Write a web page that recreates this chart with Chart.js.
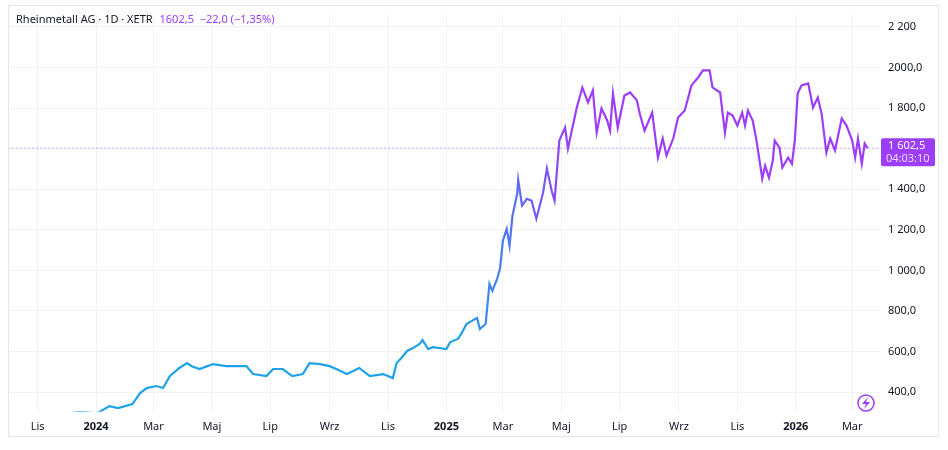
<!DOCTYPE html>
<html>
<head>
<meta charset="utf-8">
<script src="https://cdn.jsdelivr.net/npm/chart.js@4"></script>
<style>
  body { margin: 0; background: #fff; font-family: "Noto Sans", sans-serif; }
  #wrap { position: relative; width: 948px; height: 450px; }
  #frame { position: absolute; left: 8px; top: 5px; width: 931px; height: 432px; border: 1px solid #e6e6e6; box-sizing: border-box; }
  #title { position: absolute; left: 16px; top: 11px; font-size: 11px; color: #131722; }
  #title span { color: #9b3ef5; margin-left: 4px; }
</style>
</head>
<body>
<div id="wrap">
  <div id="frame"></div>
  <canvas id="chart" width="948" height="450"></canvas>
  <div id="title">Rheinmetall AG · 1D · XETR <span>1602,5&nbsp; −22,0 (−1,35%)</span></div>
</div>
<script>
// days since 2023-11-01
const days = [19, 33, 44, 62, 75, 84, 99, 107, 114, 124, 131, 138, 148, 156, 161, 169, 183, 197, 211, 218,
  225, 239, 246, 256, 266, 277, 284, 295, 305, 312, 323, 336, 347, 361, 371, 375, 380, 386, 392, 399,
  402, 408, 413, 427, 431, 439, 443, 448, 459, 462, 468, 472, 475, 480, 483, 486, 490, 493, 496, 501,
  502, 506, 511, 516, 521, 525, 528, 532, 537, 540, 545, 551, 554, 558, 563, 569, 575, 580, 584, 589,
  595, 598, 601, 606, 613, 619, 626, 629, 634, 642, 648, 653, 657, 664, 669, 676, 683, 690, 695, 702,
  705, 713, 718, 721, 726, 731, 736, 739, 742, 747, 751, 757, 760, 764, 768, 770, 775, 778, 784, 788,
  791, 794, 798, 805, 810, 815, 819, 824, 828, 833, 840, 845, 851, 854, 857, 861, 864, 867];
const prices = [291, 296, 301, 296, 331, 321, 341, 395, 420, 430, 420, 479, 519, 543, 528, 514, 538, 528, 528, 528,
  489, 479, 514, 514, 479, 489, 543, 538, 528, 514, 489, 519, 479, 489, 469, 543, 568, 603, 617, 637,
  657, 612, 622, 612, 647, 662, 691, 736, 766, 711, 736, 934, 899, 958, 1008, 1146, 1205, 1121, 1269, 1378,
  1447, 1319, 1353, 1344, 1255, 1329, 1383, 1502, 1393, 1344, 1640, 1704, 1600, 1689, 1798, 1902, 1828, 1887, 1679, 1798,
  1739, 1689, 1872, 1704, 1862, 1877, 1838, 1773, 1689, 1778, 1556, 1650, 1566, 1650, 1754, 1788, 1912, 1951, 1986, 1986,
  1902, 1877, 1679, 1778, 1763, 1714, 1778, 1714, 1788, 1739, 1640, 1452, 1516, 1457, 1541, 1640, 1605, 1507, 1556, 1526,
  1640, 1872, 1912, 1922, 1803, 1852, 1773, 1581, 1650, 1591, 1749, 1714, 1640, 1556, 1650, 1526, 1625, 1602.5];

const tickDays = [0, 61, 121, 182, 243, 305, 366, 427, 486, 547, 608, 670, 731, 792, 851];
const tickLabels = ['Lis', '2024', 'Mar', 'Maj', 'Lip', 'Wrz', 'Lis', '2025', 'Mar', 'Maj', 'Lip', 'Wrz', 'Lis', '2026', 'Mar'];
const yTicks = [400, 600, 800, 1000, 1200, 1400, 1600, 1800, 2000, 2200];
const yLabels = ['400,0', '600,0', '800,0', '1 000,0', '1 200,0', '1 400,0', '', '1 800,0', '2000,0', '2 200'];
const lastPrice = 1602.5;

const points = days.map((d, i) => ({ x: d, y: prices[i] }));

const overlay = {
    id: 'overlay',
    afterDatasetsDraw(chart) {
        const ctx = chart.ctx;
        const area = chart.chartArea;
        const yPix = chart.scales.y.getPixelForValue(lastPrice);
        ctx.save();
        ctx.strokeStyle = 'rgba(155,62,245,0.45)';
        ctx.setLineDash([2, 2]);
        ctx.lineWidth = 1;
        ctx.beginPath();
        ctx.moveTo(area.left, yPix);
        ctx.lineTo(area.right, yPix);
        ctx.stroke();
        ctx.setLineDash([]);
        // price badge
        ctx.fillStyle = '#9b3ef5';
        ctx.beginPath();
        ctx.roundRect(area.right + 1, yPix - 10, 54, 28, 2);
        ctx.fill();
        ctx.fillStyle = '#fff';
        ctx.font = '11px "Noto Sans"';
        ctx.textAlign = 'left';
        ctx.textBaseline = 'middle';
        ctx.fillText('1 602,5', area.right + 8, yPix - 2);
        ctx.fillStyle = '#e9dafd';
        ctx.fillText('04:03:10', area.right + 6, yPix + 11);
        // lightning button
        ctx.strokeStyle = '#9b3ef5';
        ctx.lineWidth = 1.5;
        ctx.beginPath();
        ctx.arc(866, 403, 8, 0, Math.PI * 2);
        ctx.stroke();
        ctx.fillStyle = '#9b3ef5';
        ctx.beginPath();
        ctx.moveTo(868, 397); ctx.lineTo(862, 404); ctx.lineTo(866, 404);
        ctx.lineTo(864, 409); ctx.lineTo(870, 402); ctx.lineTo(866, 402); ctx.closePath();
        ctx.fill();
        ctx.restore();
    }
};

new Chart(document.getElementById('chart'), {
    type: 'line',
    data: {
        datasets: [{
            data: points,
            borderWidth: 2.2,
            pointRadius: 0,
            tension: 0,
            borderColor(context) {
                const chart = context.chart;
                if (!chart.chartArea) return '#1fa3e8';
                const x = chart.scales.x;
                const g = chart.ctx.createLinearGradient(x.getPixelForValue(440), 0, x.getPixelForValue(560), 0);
                g.addColorStop(0, '#1fa3e8');
                g.addColorStop(0.5, '#5b6ff0');
                g.addColorStop(1, '#9b3ef5');
                return g;
            }
        }]
    },
    options: {
        responsive: false,
        animation: false,
        layout: { padding: { left: 8, right: 8, top: 2, bottom: 9 } },
        plugins: { legend: { display: false }, tooltip: { enabled: false } },
        scales: {
            x: {
                type: 'linear',
                min: -31,
                max: 880,
                afterBuildTicks(scale) { scale.ticks = tickDays.map(v => ({ value: v })); },
                grid: { color: '#f2f2f2', drawTicks: false },
                border: { display: false },
                ticks: {
                    padding: 8,
                    maxRotation: 0,
                    autoSkip: false,
                    color: '#131722',
                    font(ctx) {
                        const lbl = tickLabels[ctx.index] || '';
                        return { family: 'Noto Sans', size: 11, weight: /^\d/.test(lbl) ? 'bold' : 'normal' };
                    },
                    callback(v, i) { return tickLabels[i]; }
                }
            },
            y: {
                position: 'right',
                min: 303,
                max: 2261,
                afterBuildTicks(scale) { scale.ticks = yTicks.map(v => ({ value: v })); },
                afterFit(scale) { scale.width = 60; },
                grid: { color: '#f2f2f2', drawTicks: false },
                border: { display: false },
                ticks: {
                    padding: 8,
                    color: '#131722',
                    font: { family: 'Noto Sans', size: 11 },
                    callback(v, i) { return yLabels[i]; }
                }
            }
        }
    },
    plugins: [overlay]
});
</script>
</body>
</html>
